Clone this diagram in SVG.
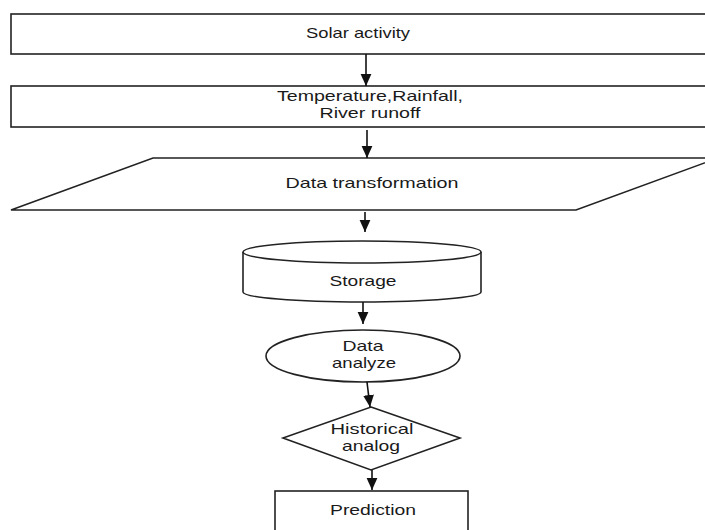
<svg xmlns="http://www.w3.org/2000/svg" width="705" height="530" viewBox="0 0 705 530">
<style>
.s{fill:#fff;stroke:#222;stroke-width:1.6}
.t{font-family:"Liberation Sans",Arial,sans-serif;font-size:14.5px;fill:#1a1a1a;text-anchor:middle}
.c{stroke:#111;stroke-width:1.6;fill:none}
</style>
<defs>
<marker id="ah" markerUnits="userSpaceOnUse" markerWidth="12" markerHeight="12" viewBox="0 0 10 10" refX="10" refY="5" orient="auto">
<path d="M0,0.5 L10,5 L0,9.5 Z" fill="#111"/>
</marker>
</defs>
<rect width="705" height="530" fill="#fff"/>
<g id="n1"><rect class="s" x="11" y="14" width="710" height="40"/><text class="t" x="358" y="38" textLength="104" lengthAdjust="spacingAndGlyphs">Solar activity</text></g>
<g id="n2"><rect class="s" x="11" y="86" width="710" height="41"/><text class="t" x="370" y="101" textLength="186" lengthAdjust="spacingAndGlyphs">Temperature,Rainfall,</text><text class="t" x="370" y="118" textLength="101" lengthAdjust="spacingAndGlyphs">River runoff</text></g>
<g id="n3"><polygon class="s" points="153,158 718,158 576,210 11,210"/><text class="t" x="372" y="188" textLength="173" lengthAdjust="spacingAndGlyphs">Data transformation</text></g>
<g id="n4"><path class="s" d="M243,252 A119,11 0 0,1 481,252 L481,292 A119,10 0 0,1 243,292 Z"/><path class="s" d="M243,252 A119,11 0 0,0 481,252"/><text class="t" x="363" y="286" textLength="67" lengthAdjust="spacingAndGlyphs">Storage</text></g>
<g id="n5"><ellipse class="s" cx="363" cy="356" rx="97" ry="26"/><text class="t" x="363" y="351" textLength="41" lengthAdjust="spacingAndGlyphs">Data</text><text class="t" x="364" y="368" textLength="64" lengthAdjust="spacingAndGlyphs">analyze</text></g>
<g id="n6"><polygon class="s" points="371,407 460,438 371,470 283,438"/><text class="t" x="372" y="434" textLength="83" lengthAdjust="spacingAndGlyphs">Historical</text><text class="t" x="371" y="451" textLength="58" lengthAdjust="spacingAndGlyphs">analog</text></g>
<g id="n7"><rect class="s" x="275" y="491" width="193" height="50"/><text class="t" x="373" y="515" textLength="86" lengthAdjust="spacingAndGlyphs">Prediction</text></g>
<g id="connectors">
<line class="c" x1="366" y1="54" x2="366" y2="86" marker-end="url(#ah)"/>
<line class="c" x1="367" y1="130" x2="367" y2="158" marker-end="url(#ah)"/>
<line class="c" x1="365" y1="212" x2="365" y2="232" marker-end="url(#ah)"/>
<line class="c" x1="363" y1="302" x2="363" y2="324" marker-end="url(#ah)"/>
<line class="c" x1="367" y1="382" x2="370" y2="407" marker-end="url(#ah)"/>
<line class="c" x1="372" y1="470" x2="372" y2="490" marker-end="url(#ah)"/>
</g>
</svg>
